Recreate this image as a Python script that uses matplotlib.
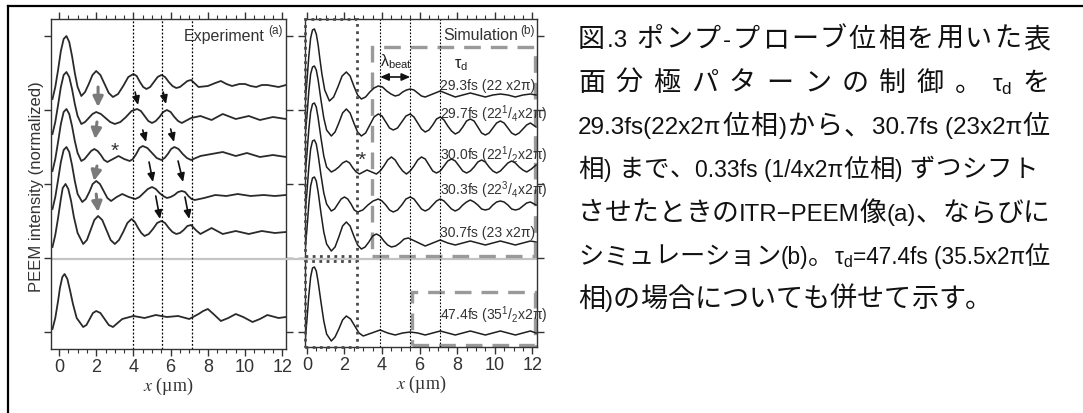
import matplotlib
matplotlib.use("Agg")
import matplotlib.pyplot as plt
from matplotlib.lines import Line2D
from matplotlib.patches import Rectangle
from matplotlib.ticker import MultipleLocator

plt.rcParams['mathtext.fontset'] = 'stix'
plt.rcParams['font.family'] = ['Liberation Sans', 'DejaVu Sans']
JP = ['Noto Sans CJK JP', 'DejaVu Sans']
LAT = ['Liberation Sans', 'DejaVu Sans']

# ---------------- data (x in µm, intensity in a.u., curves stacked) ----------------
x_ticks = [0, 2, 4, 6, 8, 10, 12]
y_ticks = [0, 74, 148, 222, 296]

# Experiment (a)
exp_293_x = [-0.35, -0.2, -0.05, 0.1, 0.25, 0.4, 0.55, 0.7, 0.85, 1.0, 1.2, 1.4, 1.6, 1.8, 2.0, 2.225, 2.45, 2.675, 2.9,
             3.175, 3.45, 3.725, 4.0, 4.175, 4.35, 4.525, 4.7, 4.9, 5.1, 5.3, 5.5, 5.7, 5.9, 6.1, 6.3, 6.5, 6.7, 6.9, 7.1,
             7.5, 8.0, 8.4, 8.7, 9.0, 9.3, 9.7, 10.0, 10.3, 10.6, 10.9, 11.2, 11.5, 11.8, 12.2]
exp_293_y = [233, 245, 262, 281, 293, 296, 290, 276, 259, 245, 236, 240, 248, 257, 261, 257, 248, 239, 235,
             238, 246, 255, 258, 256, 250, 245, 243, 245, 250, 255, 257, 255, 250, 246, 244, 245, 248, 251, 252,
             245, 246, 249, 251, 248, 246, 248, 248, 246, 245, 247, 247, 246, 245, 247]

exp_297_x = [-0.35, -0.2, -0.05, 0.1, 0.25, 0.4, 0.55, 0.7, 0.85, 1.0, 1.2, 1.4, 1.6, 1.8, 2.0, 2.25, 2.5, 2.75, 3.0,
             3.3, 3.6, 3.9, 4.2, 4.4, 4.6, 4.8, 5.0, 5.2, 5.4, 5.6, 5.8, 6.0, 6.2, 6.4, 6.6,
             7.1, 7.6, 8.2, 8.8, 9.5, 10.2, 10.8, 11.5, 12.2]
exp_297_y = [198, 210, 227, 245, 257, 260, 255, 243, 228, 216, 208, 210, 214, 218, 220, 218, 214, 210, 208,
             210, 215, 221, 223, 221, 216, 211, 209, 211, 215, 220, 222, 220, 215, 211, 209,
             214, 216, 212, 218, 213, 216, 212, 215, 213]

exp_300_x = [-0.35, -0.2, -0.05, 0.1, 0.25, 0.4, 0.55, 0.7, 0.85, 1.0, 1.2, 1.375, 1.55, 1.725, 1.9, 2.075, 2.25, 2.425,
             2.6, 2.9, 3.2, 3.5, 3.8, 3.975, 4.15, 4.325, 4.5, 4.75, 5.0, 5.25, 5.5, 5.675, 5.85, 6.025, 6.2, 6.425,
             6.65, 6.875, 7.1, 7.6, 8.2, 8.8, 9.5, 10.1, 10.8, 11.5, 12.2]
exp_300_y = [161, 173, 190, 208, 220, 223, 218, 206, 191, 179, 171, 173, 177, 181, 183, 181, 177, 172,
             170, 173, 176, 173, 171, 173, 178, 184, 186, 184, 179, 174, 172, 174, 178, 183, 185, 183,
             178, 174, 172, 176, 178, 180, 176, 179, 175, 177, 175]

exp_303_x = [-0.35, -0.2, -0.05, 0.1, 0.25, 0.4, 0.55, 0.7, 0.85, 1.0, 1.25, 1.44, 1.63, 1.81, 2.0, 2.2, 2.4, 2.6, 2.8,
             3.1, 3.4, 3.75, 4.1, 4.325, 4.55, 4.775, 5.0, 5.2, 5.4, 5.6, 5.8, 6.0, 6.2, 6.4, 6.6, 6.775, 6.95,
             7.125, 7.3, 7.8, 8.4, 9.0, 9.6, 10.3, 11.0, 11.6, 12.2]
exp_303_y = [123, 135, 152, 170, 182, 185, 180, 167, 151, 138, 130, 133, 140, 148, 151, 148, 141, 134, 131,
             135, 138, 135, 133, 135, 139, 143, 145, 143, 139, 136, 134, 135, 137, 140, 141, 140, 136,
             133, 132, 134, 137, 136, 138, 136, 137, 136, 137]

exp_307_x = [-0.35, -0.2, -0.05, 0.1, 0.2, 0.35, 0.5, 0.65, 0.8, 1.0, 1.3, 1.5, 1.7, 1.9, 2.1, 2.325, 2.55, 2.775, 3.0,
             3.225, 3.45, 3.675, 3.9, 4.075, 4.25, 4.425, 4.6, 4.825, 5.05, 5.275, 5.5, 5.7, 5.9, 6.1, 6.3, 6.5,
             6.7, 6.9, 7.1, 7.35, 7.6, 8.2, 8.8, 9.5, 10.2, 10.9, 11.6, 12.2]
exp_307_y = [85, 97, 114, 133, 144, 148, 143, 131, 115, 99, 88, 92, 102, 112, 116, 112, 102, 92, 88,
             92, 100, 109, 113, 110, 104, 99, 96, 98, 103, 109, 111, 109, 104, 100, 98, 99,
             102, 106, 107, 102, 98, 104, 98, 101, 98, 101, 99, 100]

exp_474_x = [-0.35, -0.2, -0.05, 0.05, 0.18, 0.3, 0.45, 0.6, 0.75, 0.95, 1.3, 1.475, 1.65, 1.825, 2.0, 2.225, 2.45,
             2.675, 2.9, 3.4, 4.0, 4.6, 5.2, 5.8, 6.4, 7.0, 7.5, 7.75, 8.0, 8.3, 8.7, 9.1, 9.5, 9.9, 10.4, 10.8,
             11.2, 11.8, 12.2]
exp_474_y = [3, 14, 31, 44, 55, 58, 53, 41, 28, 14, 5, 7, 13, 19, 21, 19, 13,
             7, 5, 13, 16, 14, 17, 15, 16, 13, 18, 21, 23, 18, 11, 14, 18, 15, 10, 13,
             17, 14, 15]

# Simulation (b)
sim_293_x = [-0.1, 0.0, 0.1, 0.2, 0.3, 0.4, 0.5, 0.6, 0.7, 0.8, 0.95, 1.2, 1.425, 1.65, 1.875, 2.1, 2.3, 2.5, 2.7,
             2.9, 3.125, 3.35, 3.575, 3.8, 4.025, 4.25, 4.475, 4.7, 4.9, 5.1, 5.3, 5.5, 5.7, 5.9, 6.1, 6.3, 6.7,
             7.1, 7.5, 7.9, 8.3, 8.7, 9.1, 9.5, 9.9, 10.3, 10.7, 11.1, 11.5, 11.9, 12.2]
sim_293_y = [228, 250, 275, 294, 302, 303, 298, 287, 272, 258, 242, 231, 235, 245, 256, 260, 256, 246, 237,
             233, 235, 240, 244, 246, 245, 241, 238, 236, 237, 240, 242, 243, 242, 239, 236, 235, 238,
             241, 238, 235, 237, 239, 237, 235, 237, 238, 237, 235, 237, 238, 237]

sim_297_x = [-0.1, 0.0, 0.1, 0.2, 0.3, 0.4, 0.5, 0.6, 0.75, 0.9, 1.05, 1.3, 1.5, 1.7, 1.9, 2.1, 2.3, 2.5, 2.7, 2.9,
             3.125, 3.35, 3.575, 3.8, 4.0, 4.2, 4.4, 4.6, 4.825, 5.05, 5.275, 5.5, 5.7, 5.9, 6.1, 6.3, 6.5, 6.7,
             6.9, 7.1, 7.3, 7.5, 7.7, 7.9, 8.1, 8.3, 8.5, 8.7, 8.9, 9.1, 9.3, 9.5, 9.7, 9.9, 10.1, 10.3, 10.5,
             10.7, 10.9, 11.1, 11.3, 11.5, 11.7, 11.9, 12.2]
sim_297_y = [196, 215, 240, 258, 265, 266, 262, 252, 232, 214, 202, 196, 200, 209, 219, 223, 219, 209, 200, 196,
             199, 207, 215, 218, 216, 210, 204, 202, 204, 210, 216, 218, 215, 209, 203, 200, 202, 207,
             213, 215, 212, 206, 201, 198, 200, 205, 211, 213, 211, 205, 199, 197, 199, 204, 209, 211, 209,
             204, 199, 197, 199, 203, 207, 209, 205]

sim_300_x = [-0.1, 0.0, 0.1, 0.2, 0.3, 0.4, 0.5, 0.6, 0.75, 0.9, 1.05, 1.3, 1.5, 1.7, 1.9, 2.1, 2.275, 2.45, 2.625,
             2.8, 3.0, 3.2, 3.45, 3.7, 3.9, 4.1, 4.3, 4.5, 4.7, 4.9, 5.1, 5.3, 5.5, 5.7, 5.9, 6.1, 6.3, 6.5, 6.7,
             6.9, 7.1, 7.3, 7.5, 7.7, 7.9, 8.1, 8.3, 8.5, 8.7, 8.9, 9.1, 9.3, 9.5, 9.7, 9.9, 10.1, 10.3, 10.5,
             10.7, 10.9, 11.1, 11.3, 11.5, 11.7, 11.95, 12.2]
sim_300_y = [156, 177, 202, 220, 228, 229, 225, 214, 194, 176, 165, 160, 162, 165, 169, 171, 169, 164, 160,
             158, 160, 162, 160, 158, 161, 166, 172, 175, 172, 166, 161, 158, 161, 166, 172, 175, 173, 167, 161,
             159, 161, 166, 171, 173, 171, 166, 161, 159, 161, 165, 170, 172, 170, 165, 161, 159, 161, 165,
             169, 171, 169, 165, 162, 160, 163, 167]

sim_303_x = [-0.1, 0.0, 0.1, 0.2, 0.3, 0.4, 0.5, 0.6, 0.75, 0.9, 1.05, 1.3, 1.475, 1.65, 1.825, 2.0, 2.175, 2.35, 2.525,
             2.7, 2.975, 3.25, 3.525, 3.8, 4.0, 4.2, 4.4, 4.6, 4.825, 5.05, 5.275, 5.5, 5.7, 5.9, 6.1, 6.3, 6.5,
             6.7, 6.9, 7.1, 7.3, 7.5, 7.7, 7.9, 8.1, 8.3, 8.5, 8.7, 8.9, 9.1, 9.3, 9.5, 9.7, 9.9, 10.1, 10.3,
             10.5, 10.7, 10.9, 11.1, 11.3, 11.5, 11.7, 11.9, 12.2]
sim_303_y = [118, 139, 164, 183, 191, 192, 188, 177, 157, 139, 128, 121, 123, 128, 133, 135, 133, 128, 122,
             120, 122, 127, 131, 133, 131, 127, 122, 120, 122, 127, 133, 135, 133, 128, 123, 121, 123,
             127, 131, 133, 131, 127, 123, 121, 123, 127, 130, 132, 130, 127, 123, 122, 123, 127, 130, 131,
             130, 127, 123, 122, 123, 126, 129, 130, 127]

sim_307_x = [-0.1, 0.0, 0.1, 0.2, 0.3, 0.4, 0.5, 0.6, 0.75, 0.9, 1.05, 1.3, 1.5, 1.7, 1.9, 2.1, 2.3, 2.5, 2.7, 2.9,
             3.1, 3.3, 3.5, 3.7, 3.9, 4.1, 4.3, 4.5, 4.725, 4.95, 5.175, 5.4, 5.85, 6.3, 6.7, 7.1, 7.5, 7.9, 8.3,
             8.7, 9.1, 9.5, 9.9, 10.3, 10.7, 11.1, 11.5, 11.9, 12.2]
sim_307_y = [81, 102, 127, 146, 154, 155, 151, 140, 119, 100, 88, 81, 85, 95, 106, 110, 106, 96, 87, 83,
             85, 90, 96, 98, 96, 91, 87, 85, 86, 89, 93, 94, 90, 86, 89, 92, 89, 87, 89,
             91, 89, 87, 89, 91, 89, 87, 89, 91, 90]

sim_474_x = [-0.1, 0.0, 0.1, 0.2, 0.3, 0.4, 0.5, 0.6, 0.75, 0.9, 1.05, 1.3, 1.5, 1.7, 1.9, 2.1, 2.325, 2.55, 2.775,
             3.0, 3.45, 3.9, 4.3, 4.7, 5.1, 5.5, 5.9, 6.3, 6.7, 7.1, 7.5, 7.9, 8.3, 8.7, 9.1, 9.5, 9.9, 10.3,
             10.7, 11.1, 11.5, 11.9, 12.2]
sim_474_y = [-10, 11, 36, 55, 64, 65, 61, 50, 30, 11, -2, -9, -5, 3, 12, 16, 13, 6, -1,
             -4, -1, 2, -1, -3, -1, 0, -1, -3, -1, 1, -1, -3, -1, 1, -1, -3, -1, 1,
             -1, -3, -1, 1, -1]

sim_labels = ["29.3fs (22 x2π)",
              r"29.7fs (22$\mathregular{^1}$/$\mathregular{_4}$x2π)",
              r"30.0fs (22$\mathregular{^1}$/$\mathregular{_2}$x2π)",
              r"30.3fs (22$\mathregular{^3}$/$\mathregular{_4}$x2π)",
              "30.7fs (23 x2π)",
              r"47.4fs (35$\mathregular{^1}$/$\mathregular{_2}$x2π)"]
sim_label_y = [247, 219, 178, 143, 100, 18]

exp_guides = [4.0, 5.55, 7.15]
sim_guides = [3.9, 5.5, 7.1]
gray_arrows = [(2.1, 245, 2.1, 225), (2.04, 210, 1.94, 193), (2.04, 166, 1.88, 151), (2.0, 138, 2.1, 120)]
black_arrows = [(4.09, 240, 4.25, 227), (5.6, 240, 5.75, 228),
                (4.5, 202, 4.68, 190), (6.0, 203, 6.18, 190),
                (4.84, 170, 5.05, 150), (6.4, 171, 6.67, 150),
                (5.2, 136, 5.43, 113), (6.77, 135, 7.0, 113)]

# ---------------- figure ----------------
W, H = 1083, 414
fig = plt.figure(figsize=(W / 100, H / 100), dpi=100)
fig.patch.set_facecolor('white')

axL = fig.add_axes([51 / W, (H - 350) / H, 235 / W, 330 / H])
axR = fig.add_axes([305 / W, (H - 348) / H, 232 / W, 328 / H])
axL.set_xlim(-0.43, 12.2)
axL.set_ylim(-17, 313)
axR.set_xlim(-0.1, 12.25)
axR.set_ylim(-15, 313)

for ax in (axL, axR):
    ax.set_xticks(x_ticks)
    ax.xaxis.set_minor_locator(MultipleLocator(0.5))
    ax.set_yticks(y_ticks)
    ax.set_yticklabels([])
    ax.tick_params(axis='x', which='both', direction='out', top=True, bottom=True,
                   labelsize=13, labelcolor='#333333', color='#333333')
    ax.tick_params(axis='x', which='major', length=5, width=1.0, pad=1.5)
    ax.tick_params(axis='x', which='minor', length=3, width=0.8)
    ax.tick_params(axis='y', which='major', direction='out', left=True, right=True,
                   length=5, width=1.0, color='#333333')
    for s in ax.spines.values():
        s.set_color('#333333')
        s.set_linewidth(1.0)
    ax.axhline(73, color='#c4c4c4', lw=1.6, zorder=0.5)
    ax.set_xlabel(r"$x$ (µm)", family='Liberation Serif', fontsize=13, color='#333333', labelpad=0)

fig.add_artist(Line2D([286 / W, 305 / W], [(H - 260) / H] * 2, transform=fig.transFigure,
                      color='#c4c4c4', lw=1.6))

# experiment curves
for xs, ys in [(exp_293_x, exp_293_y), (exp_297_x, exp_297_y), (exp_300_x, exp_300_y),
               (exp_303_x, exp_303_y), (exp_307_x, exp_307_y), (exp_474_x, exp_474_y)]:
    axL.plot(xs, ys, color='#2a2a2a', lw=1.3, solid_joinstyle='round')
for gx in exp_guides:
    axL.axvline(gx, color='black', lw=0.9, ls=(0, (1.5, 1.5)))
for (x0, y0, x1, y1) in gray_arrows:
    axL.annotate('', xy=(x1, y1), xytext=(x0, y0),
                 arrowprops=dict(arrowstyle='-|>,head_width=0.3,head_length=0.6',
                                 color='#7a7a7a', lw=2.2, shrinkA=0, shrinkB=0))
for (x0, y0, x1, y1) in black_arrows:
    axL.annotate('', xy=(x1, y1), xytext=(x0, y0),
                 arrowprops=dict(arrowstyle='-|>,head_width=0.22,head_length=0.5',
                                 color='#111111', lw=1.2, shrinkA=0, shrinkB=0))
axL.text(3.0, 182, '*', fontsize=15, ha='center', va='center', color='#333333')
axL.text(11.07, 297, 'Experiment', fontsize=11.5, ha='right', va='center', color='#333333')
axL.text(11.24, 302, '(a)', fontsize=8.5, ha='left', va='center', color='#333333')

# simulation curves
for xs, ys in [(sim_293_x, sim_293_y), (sim_297_x, sim_297_y), (sim_300_x, sim_300_y),
               (sim_303_x, sim_303_y), (sim_307_x, sim_307_y), (sim_474_x, sim_474_y)]:
    axR.plot(xs, ys, color='#1e1e1e', lw=1.1, solid_joinstyle='round')
for gx in sim_guides:
    axR.axvline(gx, color='black', lw=0.8, ls=(0, (1.5, 1.5)))
axR.add_patch(Rectangle((-0.1, 76), 2.75, 237, fill=False, edgecolor='#4a4a4a', lw=2.0,
                        ls=(0, (1, 1.6)), clip_on=False, zorder=3))
axR.add_patch(Rectangle((-0.1, -15), 2.75, 86, fill=False, edgecolor='#4a4a4a', lw=2.0,
                        ls=(0, (1, 1.6)), clip_on=False, zorder=3))
axR.add_patch(Rectangle((3.45, 76), 8.7, 209, fill=False, edgecolor='#9a9a9a', lw=2.4,
                        ls=(0, (5, 3)), zorder=1))
axR.add_patch(Rectangle((5.6, -13), 6.55, 53, fill=False, edgecolor='#9a9a9a', lw=2.4,
                        ls=(0, (5, 3)), zorder=1))
for lab, ly in zip(sim_labels, sim_label_y):
    axR.text(7.1, ly, lab, fontsize=10, ha='left', va='center', color='#333333', family=LAT)
axR.text(2.93, 173, '*', fontsize=15, ha='center', va='center', color='#333333')
axR.text(3.9, 271, r"λ$\mathregular{_{beat}}$", fontsize=11.5, ha='left', va='center', color='#222222')
axR.annotate('', xy=(3.9, 255), xytext=(5.5, 255),
             arrowprops=dict(arrowstyle='<|-|>,head_width=0.22,head_length=0.5',
                             color='#111111', lw=1.2, shrinkA=0, shrinkB=0))
axR.text(8.2, 268, r"τ$\mathregular{_d}$", fontsize=11.5, ha='center', va='center', color='#222222')
axR.text(11.22, 297, 'Simulation', fontsize=11.5, ha='right', va='center', color='#333333')
axR.text(11.38, 302, '(b)', fontsize=8.5, ha='left', va='center', color='#333333')

fig.text(37 / W, (H - 187) / H, 'PEEM intensity (normalized)', rotation=90, fontsize=12,
         ha='center', va='center', color='#333333')

# outer frame lines
fig.add_artist(Line2D([8 / W, 1.0], [(H - 7) / H] * 2, transform=fig.transFigure, color='black', lw=1.6))
fig.add_artist(Line2D([8 / W, 8 / W], [0, (H - 7) / H], transform=fig.transFigure, color='black', lw=1.6))

# ---------------- caption text ----------------
TAU = r"τ$\mathregular{_d}$"
CJK_SIZE = 19.5
LAT_SIZE = 17.5


def is_latin_char(c):
    return ord(c) < 0x2000 or c == '−'


def runs_of(s):
    """CJK characters become single tokens; runs of Latin characters stay together."""
    out = []
    for ch in s:
        if is_latin_char(ch):
            if out and out[-1][1]:
                out[-1][0] += ch
            else:
                out.append([ch, True])
        else:
            out.append([ch, False])
    return [(t, lat) for t, lat in out]


renderer = fig.canvas.get_renderer()


def put_line(tokens, px0, px1, py, justify=True):
    objs = []
    for t, lat in tokens:
        objs.append(fig.text(0, 1 - py / H, t, fontsize=LAT_SIZE if lat else CJK_SIZE,
                             family=LAT if lat else JP, va='baseline', ha='left', color='#111111'))

    def widths(scale):
        out = []
        for o, (t, lat) in zip(objs, tokens):
            if lat:
                out.append(o.get_window_extent(renderer).width)
            else:
                out.append(CJK_SIZE * scale * 100 / 72)   # full-width advance = 1 em
        return out

    scale = 1.0
    ws = widths(scale)
    gap = 0.0
    if justify and len(objs) > 1:
        while True:
            gap = (px1 - px0 - sum(ws)) / (len(objs) - 1)
            if gap >= 0.0 or scale <= 0.9:
                gap = max(gap, 0.0)
                break
            scale -= 0.01
            for o, (t, lat) in zip(objs, tokens):
                o.set_fontsize((LAT_SIZE if lat else CJK_SIZE) * scale)
            ws = widths(scale)
    x = px0
    for o, w in zip(objs, ws):
        o.set_x(x / W)
        x += w + gap


put_line(runs_of("図.3 ポンプ-プローブ位相を用いた表"), 578, 1050, 47)
put_line([(c, False) for c in "面分極パターンの制御。"] + [(TAU, True), ("を", False)], 578, 1050, 91)
put_line(runs_of("29.3fs(22x2π位相)から、30.7fs (23x2π位"), 578, 1050, 134)
put_line(runs_of("相) まで、0.33fs (1/4x2π位相) ずつシフト"), 578, 1038, 177)
put_line(runs_of("させたときのITR−PEEM像(a)、ならびに"), 578, 1050, 221)
put_line(runs_of("シミュレーション(b)。") + [(TAU, True)] + runs_of("=47.4fs (35.5x2π位"), 578, 1050, 264)
put_line(runs_of("相)の場合についても併せて示す。"), 578, 1050, 307, justify=False)

fig.savefig('out.png', dpi=100, facecolor='white')
